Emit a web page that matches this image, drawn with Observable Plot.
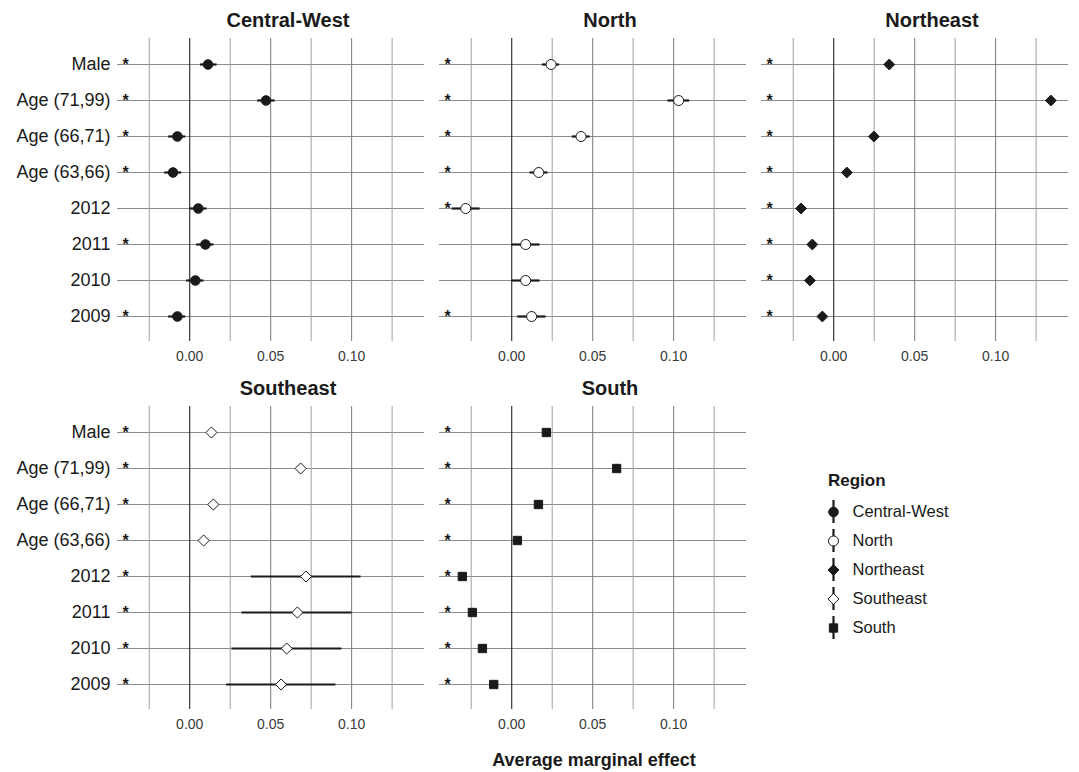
<!DOCTYPE html>
<html><head><meta charset="utf-8">
<script src="https://cdn.jsdelivr.net/npm/d3@7"></script>
<script src="https://cdn.jsdelivr.net/npm/@observablehq/plot@0.6"></script>
<style>
body{margin:0;background:#fff;font-family:"Liberation Sans",Arial,Helvetica,sans-serif;}
#wrap{position:relative;width:1079px;height:772px;overflow:hidden;background:#fff;}
#main{position:absolute;left:0;top:0;}
#legend{position:absolute;left:790px;top:465px;}
#legtitle{position:absolute;left:828px;top:471px;font-weight:bold;font-size:17px;line-height:20px;color:#1a1a1a;}
#xtitle{position:absolute;left:394px;width:400px;top:750px;text-align:center;font-weight:bold;font-size:18px;line-height:20px;color:#1a1a1a;}
</style></head>
<body>
<div id="wrap">
  <div id="main"></div>
  <div id="legtitle">Region</div>
  <div id="legend"></div>
  <div id="xtitle">Average marginal effect</div>
</div>
<script>
// ---- data ----
const regions = ["Central-West", "North", "Northeast", "Southeast", "South"];
const panelCol = [0, 1, 2, 0, 1];
const panelRow = [0, 0, 0, 1, 1];
const terms = ["Male", "Age (71,99)", "Age (66,71)", "Age (63,66)", "2012", "2011", "2010", "2009"];
const gridValues = [-0.025, 0, 0.025, 0.05, 0.075, 0.1, 0.125];
const tickValues = [0, 0.05, 0.1];

const cwEst = [0.0113, 0.0471, -0.0076, -0.0103, 0.0053, 0.0097, 0.0035, -0.0076];
const cwLo  = [0.0066, 0.0420, -0.0130, -0.0154, 0.0002, 0.0043, -0.0019, -0.0130];
const cwHi  = [0.0169, 0.0527, -0.0025, -0.0049, 0.0107, 0.0150, 0.0088, -0.0025];
const cwSig = [1, 1, 1, 1, 0, 1, 0, 1];

const nEst = [0.0243, 0.1031, 0.0428, 0.0167, -0.0284, 0.0086, 0.0086, 0.0123];
const nLo  = [0.0189, 0.0965, 0.0374, 0.0113, -0.0368, 0.0000, 0.0000, 0.0037];
const nHi  = [0.0296, 0.1099, 0.0484, 0.0224, -0.0195, 0.0175, 0.0175, 0.0212];
const nSig = [1, 1, 1, 1, 1, 0, 0, 1];

const neEst = [0.0343, 0.1341, 0.0248, 0.0081, -0.0202, -0.0132, -0.0147, -0.0070];
const neLo  = [0.0331, 0.1329, 0.0236, 0.0069, -0.0214, -0.0144, -0.0159, -0.0082];
const neHi  = [0.0355, 0.1353, 0.0260, 0.0093, -0.0190, -0.0120, -0.0135, -0.0058];
const neSig = [1, 1, 1, 1, 1, 1, 1, 1];

const seEst = [0.0134, 0.0685, 0.0146, 0.0086, 0.0718, 0.0665, 0.0599, 0.0564];
const seLo  = [0.0120, 0.0671, 0.0132, 0.0072, 0.0381, 0.0323, 0.0261, 0.0228];
const seHi  = [0.0148, 0.0699, 0.0160, 0.0100, 0.1058, 0.1002, 0.0940, 0.0903];
const seSig = [1, 1, 1, 1, 1, 1, 1, 1];

const sEst = [0.0214, 0.0648, 0.0165, 0.0035, -0.0305, -0.0243, -0.0181, -0.0111];
const sLo  = [0.0202, 0.0636, 0.0153, 0.0023, -0.0317, -0.0255, -0.0193, -0.0123];
const sHi  = [0.0226, 0.0660, 0.0177, 0.0047, -0.0293, -0.0231, -0.0169, -0.0099];
const sSig = [1, 1, 1, 1, 1, 1, 1, 1];

// ---- assemble table ----
const series = {
  "Central-West": [cwEst, cwLo, cwHi, cwSig],
  "North": [nEst, nLo, nHi, nSig],
  "Northeast": [neEst, neLo, neHi, neSig],
  "Southeast": [seEst, seLo, seHi, seSig],
  "South": [sEst, sLo, sHi, sSig]
};
const rows = [];
const panels = [];
const gridRows = [];
const gridCols = [];
const tickRows = [];
const labelRows = [];
regions.forEach((r, i) => {
  const col = panelCol[i], row = panelRow[i];
  panels.push({region: r, col, row});
  const [e, lo, hi, sig] = series[r];
  terms.forEach((t, j) => {
    rows.push({region: r, col, row, term: t, est: e[j], lo: lo[j], hi: hi[j], sig: sig[j]});
    gridRows.push({col, row, term: t});
    if (col === 0) labelRows.push({col, row, term: t});
  });
  gridValues.forEach(v => gridCols.push({col, row, v}));
  tickValues.forEach(v => tickRows.push({col, row, v}));
});

// ---- styles ----
const ink = "#1a1a1a";
const style = {
  "Central-West": {symbol: "circle", fill: ink, stroke: ink, r: 4.8},
  "North": {symbol: "circle", fill: "white", stroke: ink, r: 5},
  "Northeast": {symbol: "diamond2", fill: ink, stroke: ink, r: 4.9},
  "Southeast": {symbol: "diamond2", fill: "white", stroke: ink, r: 5.0},
  "South": {symbol: "square", fill: ink, stroke: ink, r: 4.7}
};
const font = "Liberation Sans, Arial, Helvetica, sans-serif";

const dotMarks = regions.map(r => Plot.dot(rows.filter(d => d.region === r), {
  fx: "col", fy: "row", x: "est", y: "term",
  symbol: () => style[r].symbol, r: style[r].r,
  fill: style[r].fill, stroke: style[r].stroke, strokeWidth: 1
}));

const chart = Plot.plot({
  width: 1079, height: 772,
  marginTop: 37, marginBottom: 62, marginLeft: 116, marginRight: 10,
  style: {fontFamily: font, fontSize: "14px", color: ink, background: "white"},
  fx: {domain: [0, 1, 2], paddingInner: 0.0465, paddingOuter: 0, axis: null},
  fy: {domain: [0, 1], paddingInner: 0.176, paddingOuter: 0, axis: null},
  x: {domain: [-0.0446, 0.145], axis: null},
  y: {type: "point", domain: terms, padding: 0.6, axis: null},
  symbol: {type: "identity"},
  marks: [
    Plot.ruleY(gridRows, {fx: "col", fy: "row", y: "term", stroke: "#8a8a8a", strokeWidth: 1}),
    Plot.ruleX(gridCols, {fx: "col", fy: "row", x: "v",
      stroke: d => d.v === 0 ? "#262626" : ([0.05, 0.1].includes(d.v) ? "#7a7a7a" : "#a0a0a0"),
      strokeWidth: d => d.v === 0 ? 1.1 : 1}),
    Plot.ruleY(rows, {fx: "col", fy: "row", y: "term", x1: "lo", x2: "hi", stroke: ink, strokeWidth: 2.2}),
    ...dotMarks,
    Plot.text(rows.filter(d => d.sig), {fx: "col", fy: "row", y: "term", text: () => "*",
      frameAnchor: "left", dx: 5, fontSize: 16, fontWeight: "bold", fill: ink}),
    Plot.text(tickRows, {fx: "col", fy: "row", x: "v", text: d => d3.format(".2f")(d.v),
      frameAnchor: "bottom", dy: 15, lineAnchor: "middle", fontSize: 14, fill: "#3a3a3a"}),
    Plot.text(labelRows, {fx: "col", fy: "row", y: "term", text: "term",
      frameAnchor: "left", dx: -7, textAnchor: "end", fontSize: 18, fill: ink}),
    Plot.text(panels, {fx: "col", fy: "row", text: "region", frameAnchor: "top", lineAnchor: "middle",
      dy: -18, dx: 17, fontSize: 20, fontWeight: "bold", fill: ink})
  ]
});
document.getElementById("main").appendChild(chart);

// ---- legend ----
const legendMarks = [
  Plot.tickX(regions, {x: () => 0, y: d => d, stroke: ink, strokeWidth: 2.2})
];
regions.forEach(r => {
  legendMarks.push(Plot.dot([r], {x: () => 0, y: d => d, symbol: () => style[r].symbol,
    r: style[r].r, fill: style[r].fill, stroke: style[r].stroke, strokeWidth: 1}));
});
legendMarks.push(Plot.text(regions, {x: () => 0, y: d => d, text: d => d, dx: 19,
  textAnchor: "start", fontSize: 16.5, fill: ink}));
const legend = Plot.plot({
  width: 200, height: 185, margin: 0,
  style: {fontFamily: font, color: ink, background: "transparent"},
  x: {domain: [0, 1], range: [43, 195], axis: null},
  y: {type: "band", domain: regions, range: [31, 177.7], paddingInner: 0.22, paddingOuter: 0.11, axis: null},
  symbol: {type: "identity"},
  marks: legendMarks
});
document.getElementById("legend").appendChild(legend);
</script>
</body></html>
